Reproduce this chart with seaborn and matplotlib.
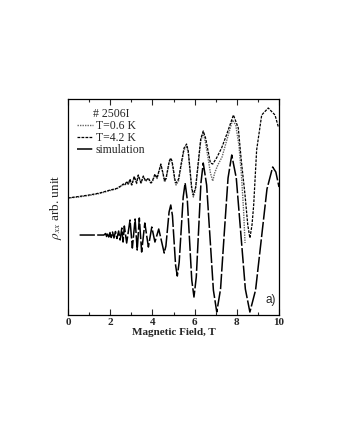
import numpy as np
import pandas as pd
import matplotlib
matplotlib.use("Agg")
import matplotlib.pyplot as plt
from matplotlib.ticker import MultipleLocator
from matplotlib.lines import Line2D
import seaborn as sns

# field values (T) and rho_xx in arbitrary units
b_42 = [0.0, 0.5, 1.0, 1.5, 2.0, 2.3, 2.50, 2.62, 2.70, 2.78, 2.86, 2.94, 3.02, 3.14,
        3.25, 3.33, 3.46, 3.57, 3.68, 3.81, 3.93, 4.00, 4.12, 4.22, 4.40, 4.49, 4.58,
        4.65, 4.72, 4.80, 4.87, 4.93, 5.00, 5.06, 5.12, 5.24, 5.37, 5.50, 5.62, 5.70,
        5.78, 5.86, 5.94, 6.05, 6.17, 6.29, 6.41, 6.52, 6.63, 6.75, 6.86, 7.04, 7.28,
        7.51, 7.84, 8.07, 8.22, 8.39, 8.52, 8.62, 8.72, 8.80, 8.94, 9.18, 9.49, 9.81, 9.97]
rho_42 = [117, 118.5, 120, 122, 125, 126.5, 129, 131, 130, 133.5, 131, 136, 130, 138.5,
          132, 140, 132, 139, 134, 137, 132, 134, 141, 137, 151, 143, 134,
          137, 145, 154, 157, 154, 145, 136, 132, 136, 152, 167, 171, 164,
          146, 128, 120, 128, 152, 176, 184, 177, 165, 152, 151, 157, 167,
          180, 200, 187, 153, 120, 90, 77, 90, 110, 165, 200, 207, 200, 188]

b_06 = [0.0, 0.5, 1.0, 1.5, 2.0, 2.3, 2.50, 2.62, 2.70, 2.78, 2.86, 2.94, 3.02, 3.14,
        3.25, 3.33, 3.46, 3.57, 3.68, 3.81, 3.93, 4.00, 4.12, 4.22, 4.40, 4.49, 4.58,
        4.65, 4.72, 4.80, 4.87, 4.93, 5.00, 5.06, 5.12, 5.24, 5.37, 5.50, 5.62, 5.70,
        5.78, 5.86, 5.94, 6.05, 6.17, 6.29, 6.41, 6.52, 6.63, 6.75, 6.86, 6.95, 7.10,
        7.30, 7.50, 7.80, 7.95, 8.10, 8.22, 8.32, 8.39]
rho_06 = [117, 118, 119.5, 121.5, 124.5, 126, 128.5, 130.5, 129.5, 133, 130.5, 135, 129.5, 138,
          131.5, 139.5, 131.5, 138.5, 133.5, 136.5, 131.5, 133.5, 140, 136.5, 150, 142, 133,
          136, 144, 153, 155, 152, 143, 134, 130, 134, 150, 165, 169, 162,
          144, 126, 118, 126, 150, 174, 182, 172, 158, 142, 134, 142, 150,
          158, 173, 195, 190, 170, 140, 105, 72]

b_sim = [0.55, 1.0, 1.5, 1.70, 1.78, 1.83, 1.88, 1.93, 1.99, 2.05, 2.11, 2.18, 2.25, 2.32,
         2.40, 2.47, 2.55, 2.61, 2.67, 2.78, 2.94, 3.05, 3.18, 3.28, 3.38, 3.49, 3.64,
         3.81, 3.97, 4.12, 4.30, 4.43, 4.56, 4.64, 4.715, 4.79, 4.87, 4.95, 5.025, 5.10,
         5.18, 5.27, 5.365, 5.46, 5.55, 5.655, 5.76, 5.865, 5.97, 6.08, 6.19, 6.30, 6.41,
         6.57, 6.73, 6.89, 7.05, 7.23, 7.405, 7.585, 7.76, 7.975, 8.19, 8.405, 8.62,
         8.89, 9.16, 9.43, 9.70, 9.85, 10.0]
rho_sim = [80, 80, 80, 80, 81.5, 78.5, 82, 78, 82.5, 77.5, 83, 77, 83.5, 76.5,
           84, 75, 87, 73, 89, 72, 95, 67, 96, 65, 97, 63, 92,
           68, 88, 73, 86, 74, 62, 69, 86, 103, 110, 99.4, 74.5, 49.6,
           39, 53, 85.5, 118, 132, 115, 75, 35, 18, 38, 85, 132, 152,
           130, 77.5, 25, 3, 26, 81.5, 137, 160, 137, 81.5, 26, 3,
           25, 75.5, 126, 148, 143, 128]

labels = ["T=0.6 K", "T=4.2 K", "simulation"]
sample = "# 2506I"

sns.set_theme(style="ticks")
plt.rcParams['font.family'] = ['Liberation Serif', 'DejaVu Serif']
plt.rcParams['mathtext.fontset'] = 'stix'

fig = plt.figure(figsize=(3.4, 4.4), dpi=100)
ax = fig.add_axes([0.2, 0.284, 0.6206, 0.491])

d06 = pd.DataFrame({"B": b_06, "rho": rho_06})
d42 = pd.DataFrame({"B": b_42, "rho": rho_42})
dsim = pd.DataFrame({"B": b_sim, "rho": rho_sim})

sns.lineplot(data=d06, x="B", y="rho", ax=ax, color="#666666", lw=1.0, sort=False)
ax.lines[-1].set_dashes([1, 0.8])
sns.lineplot(data=d42, x="B", y="rho", ax=ax, color="black", lw=0.9, sort=False)
ax.lines[-1].set_dashes([2.2, 1.0])
sns.lineplot(data=dsim, x="B", y="rho", ax=ax, color="black", lw=1.1, sort=False)
ax.lines[-1].set_dashes([10, 1.5])

ax.set_xlim(0, 10)
ax.set_ylim(0, 216)
ax.xaxis.set_major_locator(MultipleLocator(2))
ax.xaxis.set_minor_locator(MultipleLocator(1))
ax.set_yticks([])
ax.tick_params(axis='x', which='both', direction='in', top=True, pad=2)
ax.tick_params(axis='x', which='major', length=4, width=0.8, labelsize=8)
ax.tick_params(axis='x', which='minor', length=2, width=0.8)
for lab in ax.get_xticklabels():
    lab.set_fontweight('bold')
for sp in ax.spines.values():
    sp.set_linewidth(0.9)
    sp.set_color('black')

ax.set_xlabel("Magnetic Field, T", fontsize=8, fontweight='bold', labelpad=1)
ax.set_ylabel(r"$\rho_{xx}$ arb. unit", fontsize=9.5, labelpad=3)

handles = [Line2D([], [], color="#666666", lw=1.0, dashes=[1, 0.8]),
           Line2D([], [], color="black", lw=0.9, dashes=[2.2, 1.0]),
           Line2D([], [], color="black", lw=1.1, dashes=[10, 1.5])]
leg = ax.legend(handles, labels, title=sample, loc='upper left', frameon=False,
                fontsize=8.5, title_fontsize=8.5, handlelength=1.3, handletextpad=0.25,
                labelspacing=0.0, borderaxespad=0.1, borderpad=0.7,
                alignment='left')
leg.get_title().set_position((16, 0))

ax.text(0.985, 0.04, "a)", transform=ax.transAxes, ha='right', va='bottom',
        fontsize=8.5, family=['Liberation Sans', 'DejaVu Sans'])

fig.savefig("out.png", dpi=100)
